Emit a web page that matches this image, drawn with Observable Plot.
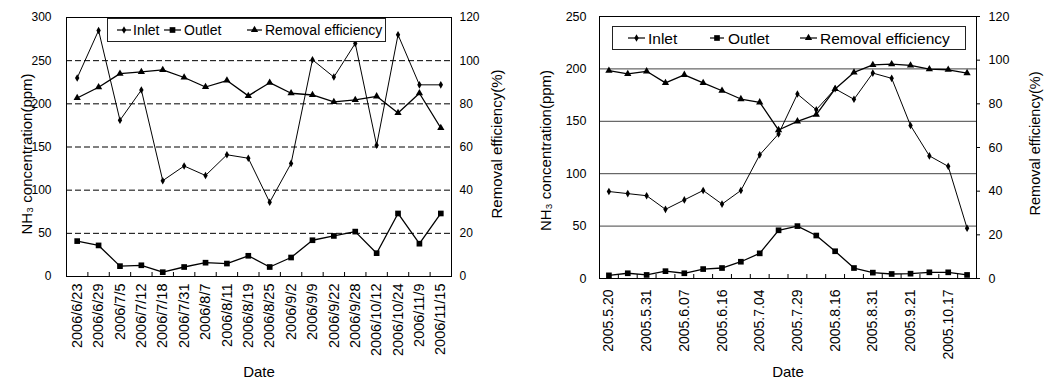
<!DOCTYPE html>
<html><head><meta charset="utf-8">
<script src="https://cdn.jsdelivr.net/npm/d3@7"></script>
<script src="https://cdn.jsdelivr.net/npm/@observablehq/plot@0.6"></script>
<style>
body{margin:0;background:#fff;}
#wrap{position:relative;width:1044px;height:385px;overflow:hidden;font-family:"Liberation Sans",Arial,sans-serif;}
#wrap svg{position:absolute;}
</style></head><body><div id="wrap"></div>
<script>
// ---- Left panel (2006) ----
const datesA = ["2006/6/23","2006/6/29","2006/7/5","2006/7/12","2006/7/18","2006/7/31","2006/8/7","2006/8/11","2006/8/19","2006/8/25","2006/9/2","2006/9/9","2006/9/22","2006/9/28","2006/10/12","2006/10/24","2006/11/9","2006/11/15"];
const inletA  = [230,285,181,216,111,128,117,141,137,86,131,251,231,270,152,280,222,222];
const outletA = [41,36,12,13,5,11,16,15,24,11,22,42,47,52,27,73,38,73];
const effA    = [82.7,87.7,94,94.8,95.7,92.2,87.8,90.8,83.7,89.8,84.9,84.1,80.9,81.8,83.5,75.8,84.9,68.8];
const yTicksA = [0,50,100,150,200,250,300];
const gridA = [50,100,150,200,250];

// ---- Right panel (2005) ----
const labelsB = ["2005.5.20","2005.5.31","2005.6.07","2005.6.16","2005.7.04","2005.7.29","2005.8.16","2005.8.31","2005.9.21","2005.10.17"];
const inletB  = [83,81,79,66,75,84,71,84,118,138,176,161,181,171,196,191,146,117,107,48];
const outletB = [3,5,3.4,7,5,9,10,16,24,46,50,41,26,10,5.6,4.3,4.6,5.9,5.9,3.4];
const effB    = [95.2,93.7,94.9,89.6,93.3,89.6,86,82.2,80.7,68,72,75.1,86.8,94.4,97.8,98.2,97.6,95.9,95.6,94.1];
const yTicksB = [0,50,100,150,200,250];
const gridB = [50,100,150,200];

const effTicks = [0,20,40,60,80,100,120];
const seriesNames = ["Inlet","Outlet","Removal efficiency"];
const symbols = ["diamond","square","triangle"];
const radii = [2.3,3.2,2.7];

const FONT = '"Liberation Sans", Arial, sans-serif';
const H = 385;
const wrap = document.getElementById("wrap");

function panel(o) {
  const {W, mL, mR, mT, mB, xs, inlet, outlet, eff, yMax, yTicks, grid, dash, k,
         xTickVals, xTickFmt, fsTick, fsX, fsTitleL, fsTitleR, fsDate,
         lPad, rPad, rTick, xPad, titleL, titleR, dateDy} = o;
  const rows = xs.map((d, i) => ({d, inlet: inlet[i], outlet: outlet[i], eff: eff[i] * k}));
  const step = (W - mL - mR) / xs.length;
  const fh = H - mT - mB;
  return Plot.plot({
    width: W, height: H, marginLeft: mL, marginRight: mR, marginTop: mT, marginBottom: mB,
    x: {type: "point", domain: xs, padding: 0.5, round: false, axis: null, label: null},
    y: {domain: [0, yMax], axis: null, label: null},
    style: {fontFamily: FONT, fontSize: fsTick + "px", background: "transparent", color: "#000", overflow: "visible"},
    marks: [
      Plot.ruleY(grid, {stroke: o.gridStroke, strokeDasharray: dash, strokeWidth: 1}),
      Plot.tickX(xs.slice(1), {x: d => d, dx: -step / 2, insetTop: fh - 4, stroke: "#000"}),
      Plot.frame({stroke: "#000"}),
      Plot.axisY(yTicks, {anchor: "left", tickSize: 0, tickPadding: lPad, label: null, fontSize: fsTick}),
      Plot.axisY(effTicks.map(v => v * k), {anchor: "right", tickSize: rTick, tickPadding: rPad, label: null,
        fontSize: fsTick, tickFormat: v => String(Math.round(v / k))}),
      Plot.axisX(xTickVals, {anchor: "bottom", tickSize: 0, tickPadding: xPad, tickRotate: -90, label: null,
        fontSize: fsX, tickFormat: xTickFmt}),
      Plot.line(rows, {x: "d", y: "inlet", stroke: "#000", strokeWidth: 1}),
      Plot.line(rows, {x: "d", y: "outlet", stroke: "#000", strokeWidth: 1.3}),
      Plot.line(rows, {x: "d", y: "eff", stroke: "#000", strokeWidth: 1.3}),
      Plot.dot(rows, {x: "d", y: "inlet", symbol: symbols[0], r: radii[0], fill: "#000"}),
      Plot.dot(rows, {x: "d", y: "outlet", symbol: symbols[1], r: radii[1], fill: "#000"}),
      Plot.dot(rows, {x: "d", y: "eff", symbol: symbols[2], r: radii[2], fill: "#000"}),
      Plot.text([titleL.text], {text: d => d, frameAnchor: "left", textAnchor: "middle", rotate: -90, dx: titleL.dx, dy: titleL.dy, fontSize: fsTitleL}),
      Plot.text([titleR.text], {text: d => d, frameAnchor: "right", textAnchor: "middle", rotate: -90, dx: titleR.dx, dy: titleR.dy, fontSize: fsTitleR}),
      Plot.text(["Date"], {text: d => d, frameAnchor: "bottom", dy: dateDy, fontSize: fsDate})
    ]
  });
}

const left = panel({
  W: 520, mL: 66, mR: 520 - 451, mT: 17, mB: H - 276,
  xs: datesA, inlet: inletA, outlet: outletA, eff: effA, yMax: 300, yTicks: yTicksA, grid: gridA,
  dash: "6,3", gridStroke: "#000", k: 300 / 120,
  xTickVals: datesA, xTickFmt: d => d, fsTick: 12, fsX: 14.5, fsTitleL: 15, fsTitleR: 15, fsDate: 15,
  lPad: 15, rPad: 8, rTick: 0, xPad: 7,
  titleL: {text: "NH₃ concentration(ppm)", dx: -39, dy: 7},
  titleR: {text: "Removal efficiency(%)", dx: 46, dy: -3},
  dateDy: 100
});
left.style.left = "0px"; left.style.top = "0px";
wrap.appendChild(left);

const idxB = inletB.map((_, i) => i);
const right = panel({
  W: 524, mL: 599 - 520, mR: 1044 - 976, mT: 16, mB: H - 278,
  xs: idxB, inlet: inletB, outlet: outletB, eff: effB, yMax: 250, yTicks: yTicksB, grid: gridB,
  dash: null, gridStroke: "#444", k: 250 / 120,
  xTickVals: idxB.filter(i => i % 2 === 0), xTickFmt: i => labelsB[i / 2], fsTick: 12.5, fsX: 14, fsTitleL: 15, fsTitleR: 14.5, fsDate: 15,
  lPad: 13, rPad: 9, rTick: 3, xPad: 11,
  titleL: {text: "NH₃ concentration(ppm)", dx: -53, dy: 3},
  titleR: {text: "Removal efficiency(%)", dx: 59, dy: -4},
  dateDy: 98
});
right.style.left = "520px"; right.style.top = "0px";
wrap.appendChild(right);

// ---- Legends ----
function legend(x, y, w, h, fs, items) {
  const svg = d3.create("svg").attr("width", w).attr("height", h)
    .style("left", x + "px").style("top", y + "px").style("font-family", FONT);
  svg.append("rect").attr("x", 0.5).attr("y", 0.5).attr("width", w - 1).attr("height", h - 1)
    .attr("fill", "#fff").attr("stroke", "#222");
  const cy = h / 2;
  const symMap = {diamond: d3.symbolDiamond, square: d3.symbolSquare, triangle: d3.symbolTriangle};
  items.forEach((it, i) => {
    svg.append("line").attr("x1", it.x0).attr("x2", it.x1).attr("y1", cy).attr("y2", cy).attr("stroke", "#000").attr("stroke-width", 1.2);
    svg.append("path").attr("d", d3.symbol(symMap[symbols[i]], Math.PI * radii[i] * radii[i])())
      .attr("transform", `translate(${(it.x0 + it.x1) / 2},${cy})`).attr("fill", "#000");
    svg.append("text").attr("x", it.tx).attr("y", cy).attr("dy", "0.36em").attr("font-size", fs).text(seriesNames[i]);
  });
  wrap.appendChild(svg.node());
}
legend(107, 18, 279, 24, 14, [{x0: 10, x1: 24, tx: 26}, {x0: 57, x1: 74, tx: 77}, {x0: 140, x1: 155, tx: 158}]);
legend(612, 26, 354, 24, 15.5, [{x0: 16, x1: 33, tx: 36}, {x0: 98, x1: 112, tx: 116}, {x0: 188, x1: 205, tx: 208}]);
</script></body></html>
